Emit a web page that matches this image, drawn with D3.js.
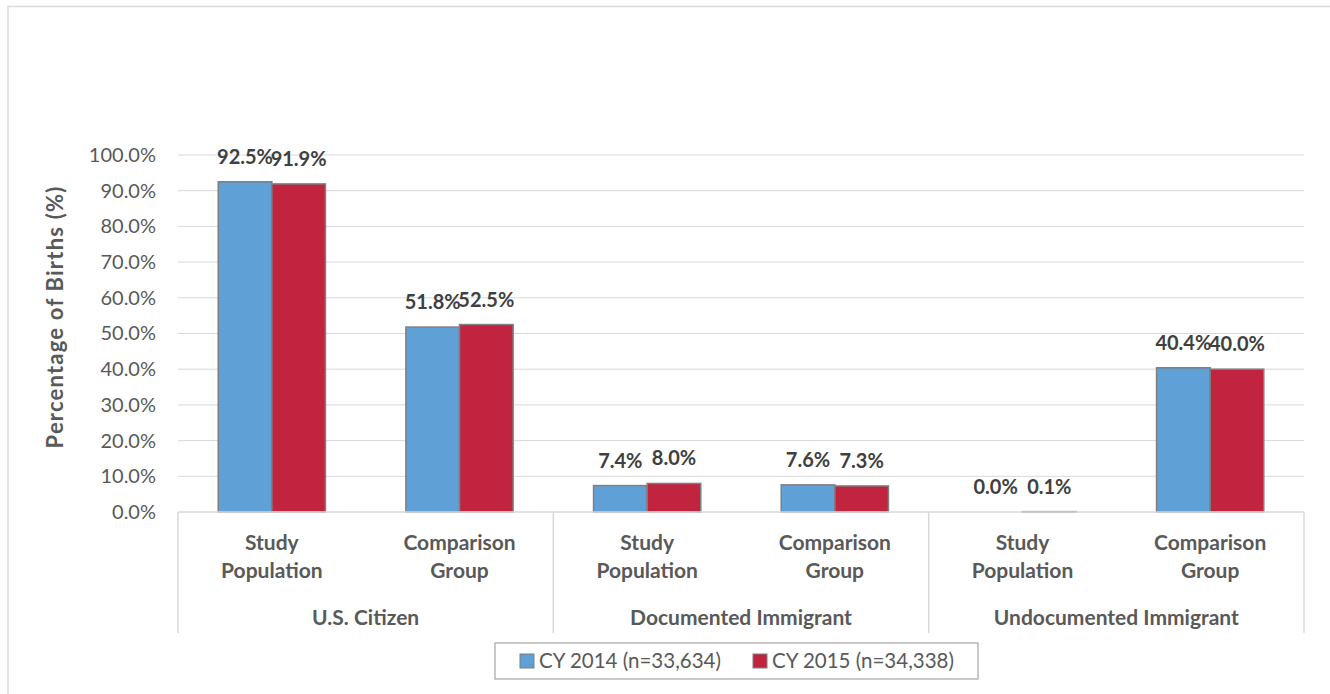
<!DOCTYPE html>
<html>
<head>
<meta charset="utf-8">
<script src="https://cdn.jsdelivr.net/npm/d3@7"></script>
<style>
  html, body { margin: 0; padding: 0; background: #fff; }
  svg { display: block; font-family: Lato, "Open Sans", sans-serif; }
</style>
</head>
<body>
<div id="chart"></div>
<script>
// Chart data
const groups = ['U.S. Citizen', 'Documented Immigrant', 'Undocumented Immigrant'];
const subgroups = [['Study', 'Population'], ['Comparison', 'Group']];
const seriesNames = ['CY 2014 (n=33,634)', 'CY 2015 (n=34,338)'];
const seriesColors = ['#5fa1d6', '#c0243f'];
const cy2014 = [92.5, 51.8, 7.4, 7.6, 0.0, 40.4];
const cy2015 = [91.9, 52.5, 8.0, 7.3, 0.1, 40.0];
const yTicks = [0, 10, 20, 30, 40, 50, 60, 70, 80, 90, 100];

const w = 1330, h = 694;
const plotLeft = 178, plotRight = 1304, plotTop = 155, plotBottom = 512;

const svg = d3.select('#chart').append('svg')
  .attr('width', w)
  .attr('height', h);

// outer chart frame
svg.append('rect')
  .attr('x', 8).attr('y', 6.5)
  .attr('width', w + 10).attr('height', h + 10)
  .attr('fill', 'none')
  .attr('stroke', '#d9d9d9')
  .attr('stroke-width', 1.5);

// build flat category list
const cats = [];
groups.forEach((g, gi) => {
  subgroups.forEach((s, si) => {
    cats.push({ group: g, gi: gi, label: s, key: gi + '-' + si });
  });
});

const x0 = d3.scaleBand()
  .domain(cats.map(c => c.key))
  .range([plotLeft, plotRight])
  .padding(0);

const xInner = d3.scaleBand()
  .domain([0, 1])
  .range([0, x0.bandwidth()])
  .paddingInner(0)
  .paddingOuter(0.75);

const y = d3.scaleLinear()
  .domain([0, 100])
  .range([plotBottom, plotTop]);

// gridlines
svg.append('g')
  .selectAll('line')
  .data(yTicks.slice(1))
  .enter().append('line')
  .attr('x1', plotLeft).attr('x2', plotRight)
  .attr('y1', d => y(d)).attr('y2', d => y(d))
  .attr('stroke', '#d9d9d9')
  .attr('stroke-width', 1);

// y axis labels
const yAxis = d3.axisLeft(y)
  .tickValues(yTicks)
  .tickSize(0)
  .tickPadding(0)
  .tickFormat(d => d.toFixed(1) + '%');

const yG = svg.append('g')
  .attr('transform', `translate(${plotLeft - 22}, 0)`)
  .call(yAxis);
yG.select('.domain').remove();
yG.selectAll('text')
  .attr('font-size', '20px')
  .attr('fill', '#595959')
  .attr('font-family', 'Lato, sans-serif');

// y axis title
svg.append('text')
  .attr('transform', 'rotate(-90)')
  .attr('x', -317)
  .attr('y', 63)
  .attr('text-anchor', 'middle')
  .attr('font-size', '22px')
  .attr('letter-spacing', '1.2px')
  .attr('font-weight', 'bold')
  .attr('fill', '#595959')
  .text('Percentage of Births (%)');

// bars
const series = [cy2014, cy2015];
series.forEach((vals, si) => {
  svg.append('g')
    .selectAll('rect')
    .data(cats)
    .enter().append('rect')
    .attr('x', c => x0(c.key) + xInner(si))
    .attr('y', (c, i) => y(vals[i]))
    .attr('width', xInner.bandwidth())
    .attr('height', (c, i) => y(0) - y(vals[i]))
    .attr('fill', seriesColors[si])
    .attr('stroke', '#7f7f7f')
    .attr('stroke-width', 1.5);

  svg.append('g')
    .selectAll('text')
    .data(cats)
    .enter().append('text')
    .attr('x', c => x0(c.key) + xInner(si) + xInner.bandwidth() / 2)
    .attr('y', (c, i) => y(vals[i]) - 18)
    .attr('text-anchor', 'middle')
    .attr('font-size', '20px')
    .attr('font-weight', 'bold')
    .attr('fill', '#404040')
    .text((c, i) => vals[i].toFixed(1) + '%');
});

// category axis
svg.append('line')
  .attr('x1', plotLeft).attr('x2', plotRight)
  .attr('y1', plotBottom).attr('y2', plotBottom)
  .attr('stroke', '#d9d9d9')
  .attr('stroke-width', 1.5);

const groupEdges = [0, 2, 4].map(i => x0(cats[i].key)).concat([plotRight]);
svg.append('g')
  .selectAll('line')
  .data(groupEdges)
  .enter().append('line')
  .attr('x1', d => d).attr('x2', d => d)
  .attr('y1', plotBottom).attr('y2', 633)
  .attr('stroke', '#d9d9d9')
  .attr('stroke-width', 1.5);

// sub-category labels
const subText = svg.append('g')
  .selectAll('text')
  .data(cats)
  .enter().append('text')
  .attr('text-anchor', 'middle')
  .attr('font-size', '21px')
  .attr('font-weight', 'bold')
  .attr('fill', '#595959');
subText.each(function (c) {
  const t = d3.select(this);
  const cx = x0(c.key) + x0.bandwidth() / 2;
  c.label.forEach((line, li) => {
    t.append('tspan')
      .attr('x', cx)
      .attr('y', 550 + li * 28)
      .text(line);
  });
});

// group labels
svg.append('g')
  .selectAll('text')
  .data(groups)
  .enter().append('text')
  .attr('x', (g, i) => (groupEdges[i] + groupEdges[i + 1]) / 2)
  .attr('y', 625)
  .attr('text-anchor', 'middle')
  .attr('font-size', '21px')
  .attr('font-weight', 'bold')
  .attr('fill', '#595959')
  .text(g => g);

// legend
const legend = svg.append('g');
legend.append('rect')
  .attr('x', 495).attr('y', 643)
  .attr('width', 483).attr('height', 36)
  .attr('fill', '#fff')
  .attr('stroke', '#a6a6a6')
  .attr('stroke-width', 1.2);

const legendX = [520, 753];
seriesNames.forEach((name, i) => {
  legend.append('rect')
    .attr('x', legendX[i]).attr('y', 654)
    .attr('width', 14).attr('height', 14)
    .attr('fill', seriesColors[i])
    .attr('stroke', '#7f7f7f')
    .attr('stroke-width', 1);
  legend.append('text')
    .attr('x', legendX[i] + 19)
    .attr('y', 668)
    .attr('font-size', '20.5px')
    .attr('fill', '#595959')
    .text(name);
});
</script>
</body>
</html>
